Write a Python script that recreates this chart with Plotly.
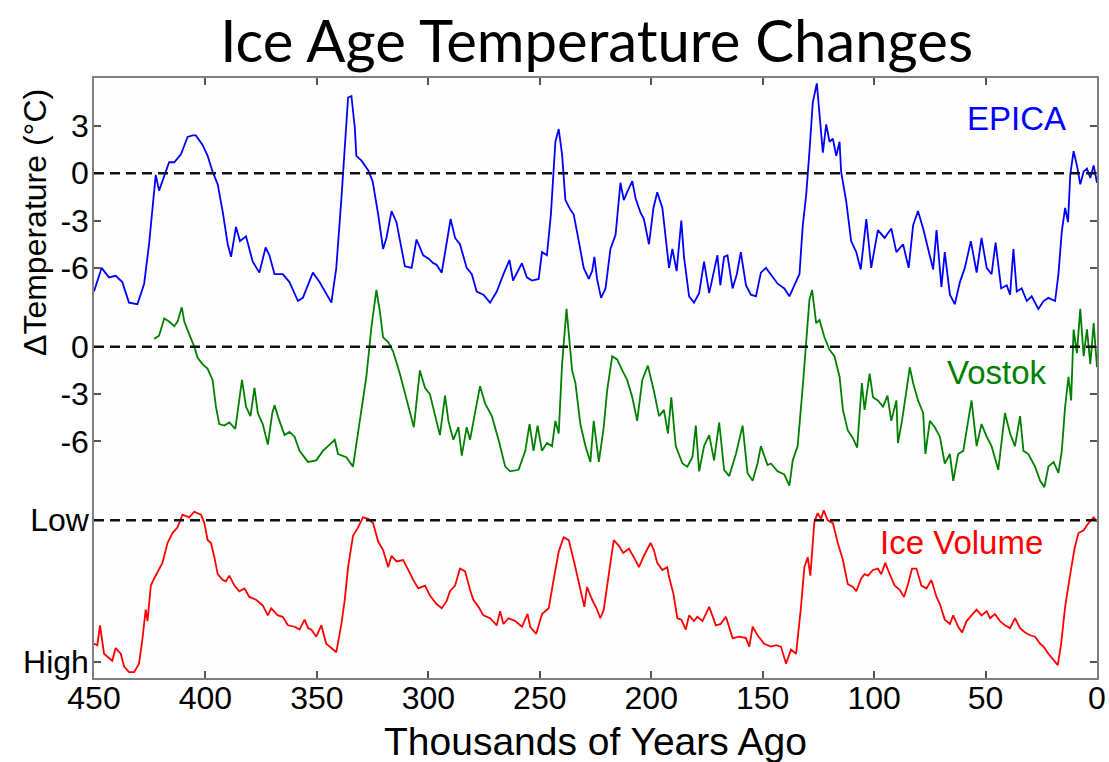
import plotly.graph_objects as go

# ---------------- data ----------------
# EPICA Dome C temperature anomaly (deg C) vs. age (thousands of years ago)
epica_age = [
    450, 446.6, 443.3, 440.3, 437.3, 434.3, 430.5, 427.5, 425.3, 423,
    422.3, 420.8, 418.5, 416.3, 414, 411, 408, 405.8, 404.3, 401.3,
    399, 396.8, 394.5, 392.3, 390, 388.5, 386.3, 384.5, 381.8, 378.8,
    375.8, 373, 371.3, 369, 365.3, 362.3, 358.5, 356.3, 351.8, 348.8,
    343.5, 341.3, 339, 337.5, 336, 334.5, 333, 332.3, 330, 327,
    325, 322.5, 320.3, 318.8, 316.5, 314.3, 310.5, 307.5, 305.3, 302.3,
    300, 297.8, 296.3, 294, 291.8, 290, 288, 285.8, 282.8, 280.5,
    278.3, 275.3, 272.3, 269.3, 266.3, 263.6, 262, 260.3, 258, 255.8,
    253.5, 250.5, 249, 246.8, 245, 243, 241.5, 240, 238.5, 236.3,
    234.8, 232.5, 230.3, 228, 226.5, 225.5, 224.3, 222.5, 220.5, 218.3,
    216, 213.8, 212.3, 210.8, 208.5, 207, 204.8, 203.3, 201, 199,
    197.3, 195, 193.5, 192, 190.5, 188.6, 186.5, 185.3, 183, 180.8,
    178.5, 176.3, 174, 172, 170.3, 169, 167.3, 165.8, 163.5, 161.6,
    159.8, 157.5, 155.3, 153, 150.8, 148.5, 146.3, 143.3, 140.3, 138,
    135.8, 133.5, 132, 130.5, 129, 127.5, 125.7, 124.5, 123, 121.5,
    120, 118.5, 117, 115.5, 114.8, 112.5, 110.3, 108, 106, 103.5,
    101.3, 98.3, 95.3, 92.3, 90, 87, 84.5, 82.5, 80.3, 78,
    75.8, 73.5, 72, 69.8, 68.3, 66, 63.8, 61.5, 59.3, 56.6,
    54, 51.8, 49.5, 47.3, 45.5, 43, 40.5, 39, 37.5, 36,
    33.8, 31.5, 29.3, 26.3, 24, 21.8, 18.8, 17.3, 15.8, 14.3,
    13, 12, 10.5, 9, 7.5, 6, 4.5, 3, 1.5, 0,
]
epica_temp = [
    -7.5, -6.0, -6.6, -6.5, -6.9, -8.2, -8.3, -7.0, -4.5, -0.7,
    -0.1, -1.1, -0.2, 0.7, 0.7, 1.2, 2.3, 2.4, 2.4, 1.8,
    1.1, 0.1, -0.7, -2.4, -4.5, -5.3, -3.4, -4.3, -4.0, -5.6,
    -6.3, -4.7, -5.2, -6.4, -6.4, -6.9, -8.1, -7.9, -6.3, -6.9,
    -8.2, -6.0, -1.6, 1.4, 4.8, 4.9, 2.9, 1.1, 0.8, 0.2,
    -0.5, -2.6, -4.8, -4.1, -2.4, -3.1, -5.9, -6.0, -4.2, -5.2,
    -5.4, -5.7, -5.8, -6.3, -4.5, -2.9, -4.1, -4.5, -6.0, -6.4,
    -7.5, -7.7, -8.2, -7.5, -6.4, -5.5, -6.8, -6.3, -5.7, -6.6,
    -6.8, -6.7, -5.0, -5.2, -2.6, 2.0, 2.8, 1.2, -1.7, -2.3,
    -2.6, -4.3, -6.0, -6.7, -6.2, -5.3, -6.7, -7.9, -7.3, -4.8,
    -3.9, -0.6, -1.7, -1.2, -0.5, -1.6, -2.5, -2.9, -4.5, -2.2,
    -1.2, -2.2, -4.1, -6.0, -4.8, -6.2, -3.0, -5.3, -7.8, -8.2,
    -7.6, -5.6, -7.6, -6.4, -5.2, -7.1, -5.3, -5.2, -7.3, -6.4,
    -5.0, -7.1, -7.7, -7.8, -6.3, -6.0, -6.4, -7.0, -7.3, -7.8,
    -7.1, -6.4, -3.3, -1.4, 1.4, 4.5, 5.7, 3.5, 1.3, 3.1,
    2.0, 2.2, 1.1, 2.0, 0.1, -1.8, -4.3, -5.0, -6.1, -2.9,
    -6.0, -3.6, -4.1, -3.5, -5.0, -4.5, -6.0, -3.3, -2.4, -3.5,
    -4.8, -6.1, -3.6, -7.2, -5.0, -7.7, -8.3, -6.9, -6.0, -4.3,
    -6.3, -4.1, -6.0, -6.4, -4.4, -7.3, -7.1, -7.7, -4.8, -7.5,
    -7.3, -8.1, -7.8, -8.6, -8.1, -7.9, -8.1, -6.4, -3.7, -2.2,
    -3.1, -0.1, 1.4, 0.5, -0.7, 0.1, 0.3, -0.3, 0.5, -0.6,
]

# Vostok temperature anomaly (deg C) vs. age (thousands of years ago)
vostok_age = [
    423, 420.8, 418.5, 416.3, 414, 412.5, 410.6, 409.5, 407.3, 405,
    403.5, 401.3, 399, 396.8, 395.3, 393.8, 391.5, 389.3, 386.6, 384.8,
    383.6, 381.8, 379.8, 378, 376.5, 374.3, 372, 370, 369, 366.8,
    364.5, 362.3, 360, 357.8, 354, 350.3, 347.3, 344.3, 342, 340.5,
    336.8, 333.8, 331.5, 327.8, 325.5, 323.3, 321.8, 320.3, 318, 315.8,
    312.8, 309.8, 306.5, 303.8, 301.5, 299.3, 297, 294.8, 292.5, 291,
    288.8, 286.5, 285, 282.8, 281.3, 279, 276.8, 274.5, 271.5, 268.5,
    265.5, 263.3, 259.5, 256.5, 254.6, 252.8, 251, 249, 246.8, 244.5,
    243, 241.5, 240, 238, 237, 235.5, 234, 231.8, 229.5, 227.3,
    225.8, 223.5, 221.3, 219.8, 217.5, 215.3, 213, 210.8, 208.5, 206.3,
    204, 201.5, 198.8, 196.5, 194.3, 192.5, 191, 189, 186, 183.8,
    181.5, 180, 178.5, 176.3, 174, 171.8, 169.5, 167.3, 165, 162,
    159, 156.8, 154.5, 152.3, 150.8, 147.8, 146.3, 143.3, 140.3, 138,
    136.5, 134.3, 132, 130.5, 129, 127.8, 126, 124.5, 122.3, 120,
    117.8, 115.5, 114, 111.8, 109.5, 107.6, 106.5, 105.5, 104.3, 102,
    100.5, 98.3, 96, 94, 92.3, 90, 89.3, 87.5, 85.5, 84,
    82.5, 80.3, 78, 77, 75, 72.8, 70.5, 68.3, 66, 64.5,
    62.3, 60, 57.8, 56.3, 54, 51.8, 49.5, 47.3, 44.3, 41.3,
    39, 36.8, 34.5, 33, 30.8, 27.8, 25.5, 23.6, 21.8, 19.5,
    17.3, 15.8, 14.3, 12.8, 11.6, 10.5, 9, 7.5, 6, 4.5,
    3, 1.5, 0,
]
vostok_temp = [
    0.5, 0.7, 1.8, 1.6, 1.3, 1.6, 2.5, 1.6, 0.8, 0.0,
    -0.7, -1.1, -1.4, -2.1, -3.8, -4.9, -5.0, -4.8, -5.2, -3.4,
    -2.1, -3.8, -4.4, -2.6, -4.2, -4.9, -6.2, -4.2, -3.7, -4.7,
    -5.6, -5.4, -5.7, -6.6, -7.3, -7.2, -6.6, -6.2, -5.9, -6.8,
    -7.0, -7.6, -5.3, -1.9, 1.3, 3.6, 2.3, 0.6, 0.3, -0.3,
    -1.7, -3.4, -5.1, -1.5, -2.6, -3.0, -4.4, -5.6, -3.1, -4.7,
    -5.9, -5.1, -6.9, -5.1, -5.9, -4.2, -2.5, -3.6, -4.4, -5.9,
    -7.6, -7.9, -7.8, -6.6, -4.9, -6.6, -5.0, -6.6, -6.1, -6.3,
    -4.7, -5.5, -1.1, 2.4, 0.6, -1.5, -2.3, -4.9, -6.3, -7.3,
    -4.7, -7.3, -5.1, -2.8, -0.6, -0.8, -1.5, -2.1, -3.2, -4.7,
    -2.1, -1.2, -2.8, -4.4, -4.0, -5.5, -3.2, -6.3, -7.4, -7.6,
    -7.0, -5.0, -7.9, -6.3, -5.6, -7.2, -4.8, -7.8, -8.2, -6.8,
    -5.0, -8.0, -8.5, -7.4, -6.3, -7.5, -7.4, -7.9, -8.1, -8.8,
    -7.2, -6.3, -2.5, 0.2, 3.0, 3.6, 1.5, 1.7, 0.6, -0.2,
    -0.6, -1.9, -4.0, -5.3, -5.8, -6.4, -4.0, -2.3, -4.0, -1.7,
    -3.2, -3.4, -3.8, -3.1, -4.7, -3.4, -6.1, -4.7, -2.8, -1.3,
    -2.3, -3.4, -4.2, -6.8, -4.7, -5.1, -5.7, -7.4, -6.8, -8.5,
    -6.8, -6.6, -4.7, -3.4, -6.3, -4.9, -5.7, -6.3, -7.8, -4.2,
    -5.5, -6.3, -4.4, -6.6, -6.8, -7.6, -8.5, -8.9, -7.6, -7.3,
    -8.0, -6.6, -3.8, -1.9, -3.4, 1.1, -0.4, 2.4, -0.6, 1.1,
    -1.1, 1.5, -1.3,
]

# Global ice volume, relative index (0 = low ice volume, 1 = high ice volume)
ice_age = [
    450, 448.5, 447.3, 445.5, 443.3, 441.8, 440.3, 438, 436.5, 434.3,
    432, 429.8, 428.3, 426.8, 426, 424.5, 423, 420.8, 419.3, 417,
    414.8, 412.5, 410.3, 407.3, 405, 402, 400.5, 399, 397.5, 396,
    394.5, 392.3, 390.8, 389.3, 387, 384.8, 382.5, 380.3, 377.3, 374.3,
    372, 370.5, 367.5, 365.3, 363, 360, 357.8, 355.5, 354, 352.5,
    350.3, 348, 345.8, 343.5, 341.3, 339, 337.5, 336, 333.8, 331.5,
    329.3, 327, 324.8, 322.5, 320.3, 318, 316.5, 314.3, 311.3, 309,
    306.8, 304.5, 301.5, 299.3, 296.3, 294, 291.8, 290.3, 288, 285.8,
    283.5, 281.3, 279.8, 277.5, 275.3, 272.3, 269.3, 267.8, 266.3, 264,
    261, 258, 255.5, 254.3, 251.6, 249, 246, 243.8, 241.5, 239.3,
    237, 234.8, 231.8, 230, 228.8, 226.5, 224.3, 222.8, 221.3, 219.8,
    218.3, 216.8, 214.5, 212.6, 210, 207.8, 205.5, 203.3, 200.3, 198.8,
    197.3, 195, 192.8, 192, 190, 188.3, 186.5, 184.5, 183, 180.8,
    179.3, 177, 174, 171, 168.8, 166.5, 163.5, 160.5, 157.5, 156,
    154.5, 152.3, 149.3, 146.3, 144, 141.8, 139.5, 137.3, 135, 132.8,
    131.3, 129.8, 128.6, 126.8, 125.3, 123.8, 122.6, 120.8, 118.5, 116.3,
    114, 111.8, 109.5, 108, 105.8, 104.3, 102.8, 100.5, 98.3, 96.8,
    95, 93, 90.8, 88.5, 86.6, 84.8, 83, 81, 78.8, 76.5,
    74.3, 72, 70.5, 68.3, 66, 64.5, 62.3, 60.5, 58.5, 56.3,
    54, 51.8, 49.5, 48, 45.8, 43.5, 41.3, 39, 36.8, 34.5,
    32.3, 30, 27.8, 25.5, 24, 21.8, 19.5, 17.6, 16.1, 14.3,
    12, 10.1, 8.3, 6, 3.8, 1.5, 0,
]
ice_volume = [
    0.87, 0.88, 0.74, 0.94, 0.97, 0.99, 0.90, 0.94, 1.03, 1.07,
    1.07, 1.01, 0.84, 0.63, 0.71, 0.46, 0.41, 0.34, 0.30, 0.16,
    0.09, 0.05, -0.04, -0.02, -0.06, -0.04, 0.02, 0.14, 0.16, 0.26,
    0.38, 0.42, 0.43, 0.39, 0.46, 0.50, 0.48, 0.54, 0.56, 0.60,
    0.67, 0.62, 0.67, 0.68, 0.74, 0.75, 0.77, 0.70, 0.76, 0.77,
    0.82, 0.74, 0.87, 0.90, 0.93, 0.73, 0.56, 0.33, 0.11, 0.05,
    -0.02, -0.01, 0.02, 0.15, 0.21, 0.33, 0.25, 0.29, 0.28, 0.35,
    0.42, 0.48, 0.46, 0.53, 0.59, 0.62, 0.57, 0.50, 0.46, 0.34,
    0.36, 0.49, 0.56, 0.61, 0.67, 0.69, 0.74, 0.64, 0.73, 0.69,
    0.71, 0.75, 0.66, 0.75, 0.80, 0.66, 0.62, 0.42, 0.22, 0.12,
    0.14, 0.28, 0.49, 0.61, 0.47, 0.56, 0.63, 0.69, 0.63, 0.45,
    0.30, 0.14, 0.18, 0.23, 0.20, 0.26, 0.33, 0.25, 0.16, 0.21,
    0.30, 0.35, 0.33, 0.40, 0.52, 0.69, 0.70, 0.77, 0.67, 0.71,
    0.68, 0.71, 0.61, 0.74, 0.73, 0.68, 0.83, 0.82, 0.83, 0.89,
    0.75, 0.81, 0.87, 0.89, 0.88, 0.89, 1.01, 0.91, 0.94, 0.61,
    0.33, 0.26, 0.39, 0.01, -0.05, -0.01, -0.07, 0.00, 0.02, 0.16,
    0.28, 0.45, 0.47, 0.50, 0.41, 0.38, 0.39, 0.35, 0.34, 0.38,
    0.30, 0.38, 0.46, 0.49, 0.54, 0.45, 0.34, 0.34, 0.46, 0.48,
    0.42, 0.54, 0.59, 0.70, 0.73, 0.67, 0.75, 0.79, 0.71, 0.67,
    0.63, 0.67, 0.64, 0.69, 0.66, 0.71, 0.74, 0.76, 0.69, 0.76,
    0.79, 0.81, 0.82, 0.87, 0.89, 0.94, 0.98, 1.02, 0.87, 0.61,
    0.38, 0.20, 0.09, 0.07, 0.02, -0.02, 0.01,
]

x_ticks = [450, 400, 350, 300, 250, 200, 150, 100, 50, 0]
y_tick_labels = ["3", "0", "-3", "-6", "0", "-3", "-6", "Low", "High"]

# ---------------- stacking of the three panels on one axis ----------------
VOSTOK_SHIFT = -11.0   # Vostok 0 line sits 11 units below EPICA 0
ICE_LOW = -22.0        # "Low" ice-volume line
ICE_SPAN = 9.0         # distance from "Low" to "High"

y_tick_vals = [3, 0, -3, -6,
               VOSTOK_SHIFT + 0, VOSTOK_SHIFT - 3, VOSTOK_SHIFT - 6,
               ICE_LOW, ICE_LOW - ICE_SPAN]

vostok_y = [v + VOSTOK_SHIFT for v in vostok_temp]
ice_y = [ICE_LOW - ICE_SPAN * v for v in ice_volume]

BLUE = "#0000ff"
GREEN = "#008000"
RED = "#ff0000"
FONT = "Liberation Sans, Arial, sans-serif"

fig = go.Figure()
fig.add_trace(go.Scatter(x=epica_age, y=epica_temp, mode="lines",
                         line=dict(color=BLUE, width=1.8), name="EPICA"))
fig.add_trace(go.Scatter(x=vostok_age, y=vostok_y, mode="lines",
                         line=dict(color=GREEN, width=1.8), name="Vostok"))
fig.add_trace(go.Scatter(x=ice_age, y=ice_y, mode="lines",
                         line=dict(color=RED, width=1.8), name="Ice Volume"))

for yv in [0, VOSTOK_SHIFT, ICE_LOW]:
    fig.add_shape(type="line", xref="paper", x0=0, x1=1, yref="y", y0=yv, y1=yv,
                  line=dict(color="#111111", width=2.5, dash="10px,6px"),
                  layer="above")

fig.add_annotation(x=36, y=3.5, text="EPICA", showarrow=False,
                   font=dict(family=FONT, size=33, color=BLUE))
fig.add_annotation(x=45, y=-12.6, text="Vostok", showarrow=False,
                   font=dict(family=FONT, size=33, color=GREEN))
fig.add_annotation(x=61, y=-23.4, text="Ice Volume", showarrow=False,
                   font=dict(family=FONT, size=33, color=RED))

# axis titles
fig.add_annotation(xref="paper", x=-0.059, xanchor="center", yref="y", y=-3.1,
                   yanchor="middle",
                   text="\u0394Temperature (\u00b0C)", textangle=-90, showarrow=False,
                   font=dict(family=FONT, size=32, color="black"))
fig.add_annotation(xref="paper", x=0.5, xanchor="center", yref="paper", y=-0.106,
                   yanchor="middle",
                   text="Thousands of Years Ago", showarrow=False,
                   font=dict(family=FONT, size=39, color="black"))

axis_common = dict(showline=True, linecolor="#7f7f7f", linewidth=1.5, mirror="ticks",
                   ticks="inside", ticklen=7, tickwidth=1.5, tickcolor="#555555",
                   showgrid=False, zeroline=False, automargin=False,
                   tickfont=dict(family=FONT, size=32, color="black"))

fig.update_layout(
    width=1109, height=762,
    margin=dict(l=94, r=12, t=78, b=84),
    paper_bgcolor="white", plot_bgcolor="#fefefe",
    showlegend=False,
    title=dict(text="Ice Age Temperature Changes", x=0.538, xanchor="center",
               y=1 - 42 / 762, yanchor="middle",
               font=dict(family="Lato, Open Sans, sans-serif", size=58, color="black")),
    xaxis=dict(range=[450, 0], tickvals=x_ticks, ticktext=[str(t) for t in x_ticks],
               ticklabelstandoff=-9, **axis_common),
    yaxis=dict(range=[-32.0, 6.04], tickvals=y_tick_vals, ticktext=y_tick_labels,
               ticklabelstandoff=-3, **axis_common),
)

fig.write_html("out.html", config={"displayModeBar": False},
               post_script="document.body.style.margin='0px';")
